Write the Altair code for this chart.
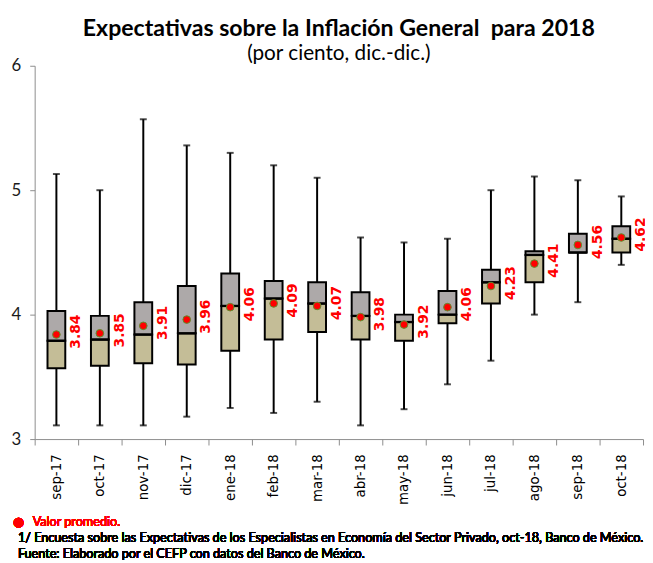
import altair as alt
import pandas as pd

months = ["sep-17", "oct-17", "nov-17", "dic-17", "ene-18", "feb-18", "mar-18",
          "abr-18", "may-18", "jun-18", "jul-18", "ago-18", "sep-18", "oct-18"]
low    = [3.11, 3.11, 3.11, 3.18, 3.25, 3.21, 3.30, 3.11, 3.24, 3.44, 3.63, 4.00, 4.10, 4.40]
q1     = [3.57, 3.59, 3.61, 3.60, 3.71, 3.80, 3.86, 3.80, 3.79, 3.93, 4.09, 4.26, 4.50, 4.50]
median = [3.79, 3.80, 3.84, 3.85, 4.07, 4.13, 4.09, 3.99, 3.94, 4.00, 4.26, 4.48, 4.50, 4.61]
q3     = [4.03, 3.99, 4.10, 4.23, 4.33, 4.27, 4.26, 4.18, 4.00, 4.19, 4.36, 4.51, 4.65, 4.71]
high   = [5.13, 5.00, 5.57, 5.36, 5.30, 5.20, 5.10, 4.62, 4.58, 4.61, 5.00, 5.11, 5.08, 4.95]
mean   = [3.84, 3.85, 3.91, 3.96, 4.06, 4.09, 4.07, 3.98, 3.92, 4.06, 4.23, 4.41, 4.56, 4.62]

df = pd.DataFrame({"mes": months, "low": low, "q1": q1, "median": median,
                   "q3": q3, "high": high, "mean": mean})
df["label"] = [f"{v:.2f}" for v in mean]

SANS = "Lato"
W, H = 616, 378

x = alt.X("mes:N", sort=months, title=None,
          scale=alt.Scale(paddingInner=0, paddingOuter=0),
          axis=alt.Axis(labelAngle=270, labelAlign="right", labelBaseline="middle",
                        labelFont="DejaVu Sans", labelFontSize=13.5, labelColor="#000000",
                        labelPadding=9, tickBand="extent", tickSize=6,
                        tickColor="#8c8c8c", domainColor="#8c8c8c", grid=False))
yscale = alt.Scale(domain=[3, 6], nice=False, zero=False)

base = alt.Chart(df).encode(x=x)

whisk = base.mark_rule(color="black", strokeWidth=2).encode(
    y=alt.Y("low:Q", scale=yscale, title=None,
            axis=alt.Axis(values=[3, 4, 5, 6], format="d", tickSize=5, labelPadding=9,
                          labelFont=SANS, labelFontSize=17, labelColor="#1a1a1a",
                          tickColor="#8c8c8c", domainColor="#8c8c8c", grid=False)),
    y2="high:Q")
cap_low = base.mark_tick(color="black", size=7, thickness=2).encode(y="low:Q")
cap_high = base.mark_tick(color="black", size=7, thickness=2).encode(y="high:Q")
box_low = base.mark_bar(size=18, color="#C4BD97", stroke="black", strokeWidth=2).encode(
    y="q1:Q", y2="median:Q")
box_high = base.mark_bar(size=18, color="#ADA9A9", stroke="black", strokeWidth=2).encode(
    y="median:Q", y2="q3:Q")
med = base.mark_tick(color="black", size=19, thickness=2.5).encode(y="median:Q")
dots = base.mark_point(filled=True, fill="#FF0000", stroke="#5C8F2E", strokeWidth=1,
                       size=60, opacity=1, shape="circle").encode(y="mean:Q")
labels = base.mark_text(angle=270, align="center", baseline="middle", dy=20, dx=3,
                        font="DejaVu Sans", fontSize=14, fontWeight="bold",
                        color="#FF0000").encode(y="mean:Q", text="label:N")

foot_legend_dot = alt.Chart(df).mark_text(
    text="\u25CF", font="DejaVu Sans", fontSize=13, color="#FF0000",
    align="left", baseline="middle").encode(
    x=alt.value(-22), y=alt.value(462))
foot_legend = alt.Chart(df).mark_text(
    text="Valor promedio.", font=SANS, fontSize=12.8, color="#FF0000",
    align="left", baseline="middle").encode(
    x=alt.value(-2), y=alt.value(462))
foot_1 = alt.Chart(df).mark_text(
    text="1/ Encuesta sobre las Expectativas de los Especialistas en Economía del Sector Privado, oct-18, Banco de México.",
    font=SANS, fontSize=12.8, color="#000000", align="left", baseline="middle").encode(
    x=alt.value(-17), y=alt.value(478))
foot_2 = alt.Chart(df).mark_text(
    text="Fuente: Elaborado por el CEFP con datos del Banco de México.",
    font=SANS, fontSize=12.8, color="#000000", align="left", baseline="middle").encode(
    x=alt.value(-17), y=alt.value(494))

chart = alt.layer(
    whisk, cap_low, cap_high, box_low, box_high, med, dots, labels,
    foot_legend_dot, foot_legend, foot_1, foot_2
).properties(
    width=W, height=H,
    title=alt.Title(text="Expectativas sobre la Inflación General\u00a0 para 2018",
                    subtitle="(por ciento, dic.-dic.)",
                    font=SANS, fontSize=23.4, fontWeight="bold", color="#000000",
                    subtitleFont=SANS, subtitleFontSize=21, subtitleColor="#000000",
                    anchor="middle", frame="group", offset=-8, subtitlePadding=2),
    autosize=alt.AutoSizeParams(type="none"),
    padding={"left": 27, "top": 55, "right": 2, "bottom": 122},
).configure_view(stroke=None)

chart.save("out.html", embed_options={"renderer": "svg", "actions": False})
